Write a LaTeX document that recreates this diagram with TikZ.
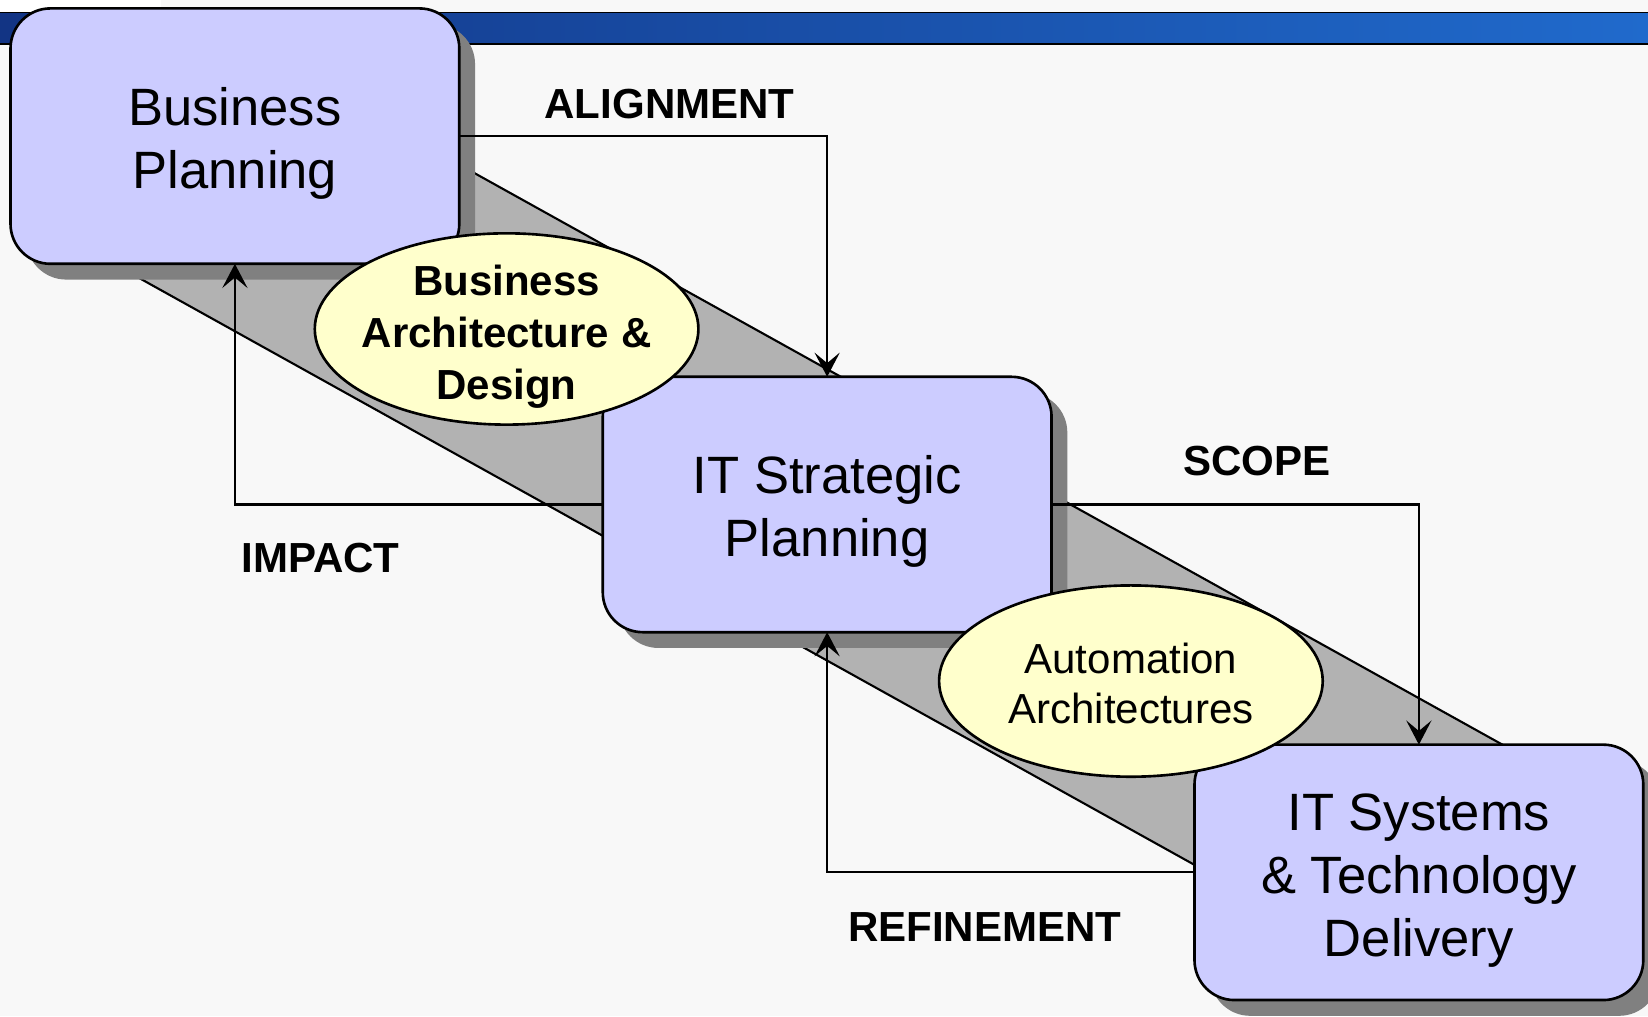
\documentclass[tikz,border=0pt]{standalone}
\usepackage{fontspec}
\setmainfont{Liberation Sans}
\usetikzlibrary{shapes.geometric,arrows.meta,shadows}
\definecolor{bg}{HTML}{F8F8F8}
\definecolor{boxfill}{HTML}{CCCCFF}
\definecolor{shadowgray}{HTML}{808080}
\definecolor{bandgray}{HTML}{B2B2B2}
\definecolor{ellfill}{HTML}{FFFFCC}
\definecolor{barL}{RGB}{18,52,132}
\definecolor{barR}{RGB}{32,106,204}
\begin{document}
\begin{tikzpicture}[x=1pt,y=-1pt,
  planbox/.style={draw=black, line width=2.5pt, fill=boxfill, rounded corners=38pt,
    minimum width=427pt, minimum height=243pt, inner sep=0pt, outer sep=0pt,
    drop shadow={shadow xshift=15pt, shadow yshift=-15pt, fill=shadowgray, opacity=1}},
  ellbox/.style={ellipse, draw=black, line width=2.5pt, fill=ellfill,
    minimum width=365pt, minimum height=182pt, inner sep=0pt, outer sep=0pt},
  boxtxt/.style={font=\fontsize{50}{60}\selectfont, align=center, inner sep=0pt},
  elltxtb/.style={font=\fontsize{40}{49.5}\selectfont\bfseries, align=center, inner sep=0pt},
  elltxt/.style={font=\fontsize{40}{48}\selectfont, align=center, inner sep=0pt},
  lbl/.style={font=\fontsize{40}{48}\selectfont\bfseries, inner sep=0pt},
  arrline/.style={draw=black, line width=2pt, -{Stealth[length=23pt,width=24pt,inset=10pt]}}
]
\useasboundingbox (0,0) rectangle (1568,967);
\fill[bg] (0,0) rectangle (1568,967);
\fill[white] (0,0) rectangle (153,12);
% top bar
\shade[left color=barL, right color=barR] (0,12) rectangle (1568,42);
\draw[line width=1.5pt] (0,12) -- (1568,12);
\draw[line width=1.5pt] (0,42) -- (1568,42);
% diagonal band
\filldraw[fill=bandgray, draw=black, line width=2pt]
  (300,80.5) -- (1500,747.7) -- (1250,886) -- (100,246.5) -- cycle;
% boxes
\node[planbox, label={[boxtxt,yshift=-7pt]center:{Business\\Planning}}] (bp) at (223.5,129.5) {};
\node[planbox, label={[boxtxt,yshift=-7pt]center:{IT Strategic\\Planning}}] (itsp) at (787,480) {};
\node[planbox, label={[boxtxt,yshift=-8pt]center:{IT Systems\\\& Technology\\Delivery}}] (itsd) at (1350,830) {};
% connectors
\draw[arrline] (bp.east) -| (itsp.north);
\draw[arrline] (itsp.west) -| (bp.south);
\draw[arrline] (itsp.east) -| (itsd.north);
\draw[arrline] (itsd.west) -| (itsp.south);
% ellipses
\node[ellbox, label={[elltxtb,yshift=-7pt]center:{Business\\Architecture \&\\Design}}] (bad) at (482,313) {};
\node[ellbox, label={[elltxt,yshift=-2.5pt]center:{Automation\\Architectures}}] (aa) at (1076,648) {};
% labels
\node[lbl] (alignment) at (637,99) {ALIGNMENT};
\node[lbl] (scope) at (1196,439) {SCOPE};
\node[lbl] (impact) at (305,531) {IMPACT};
\node[lbl] (refinement) at (937,882) {REFINEMENT};
\end{tikzpicture}
\end{document}
